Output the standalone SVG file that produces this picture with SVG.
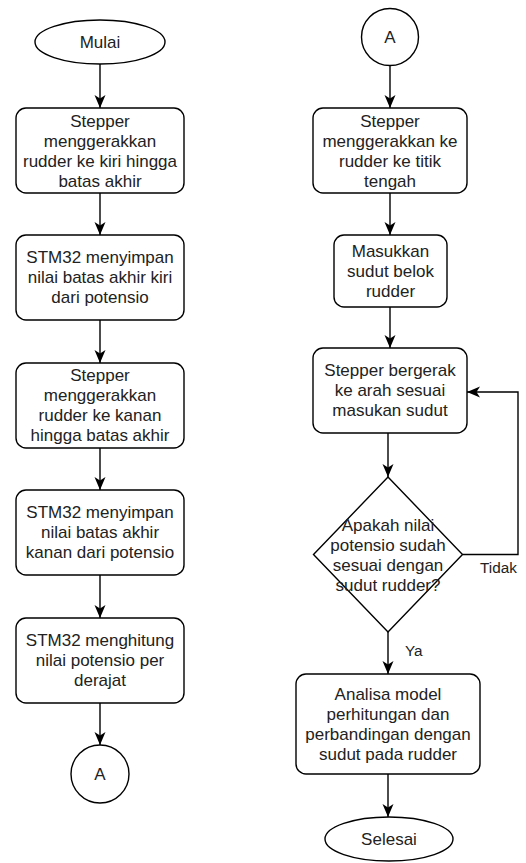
<svg xmlns="http://www.w3.org/2000/svg" width="526" height="863" viewBox="0 0 526 863">
<style>
.s{fill:#fff;stroke:#000;stroke-width:1.4}
.t{font-family:"Liberation Sans",Arial,sans-serif;font-size:17px;fill:#222;text-anchor:middle}
.l{font-family:"Liberation Sans",Arial,sans-serif;font-size:15.3px;fill:#222}
.c{fill:none;stroke:#000;stroke-width:1.4}
</style>
<defs>
<marker id="ah" markerUnits="userSpaceOnUse" markerWidth="13" markerHeight="12" viewBox="0 0 13 12" refX="13" refY="6" orient="auto">
<path d="M0,0.5 L13,6 L0,11.5 L3.5,6 Z" fill="#000"/>
</marker>
</defs>
<rect width="526" height="863" fill="#fff"/>
<g id="connectors">
<path class="c" d="M100,64 V108" marker-end="url(#ah)"/>
<path class="c" d="M100,193 V235" marker-end="url(#ah)"/>
<path class="c" d="M100,320 V363" marker-end="url(#ah)"/>
<path class="c" d="M100,448 V490" marker-end="url(#ah)"/>
<path class="c" d="M100,575 V618" marker-end="url(#ah)"/>
<path class="c" d="M100,703 V745" marker-end="url(#ah)"/>
<path class="c" d="M390,65.5 V108" marker-end="url(#ah)"/>
<path class="c" d="M390,193 V235" marker-end="url(#ah)"/>
<path class="c" d="M390,307 V348" marker-end="url(#ah)"/>
<path class="c" d="M388,433 V477" marker-end="url(#ah)"/>
<path class="c" d="M388,632 V674" marker-end="url(#ah)"/>
<path class="c" d="M388,774 V817" marker-end="url(#ah)"/>
<path class="c" d="M462.5,554.5 H518 V392 H467" marker-end="url(#ah)"/>
<text class="l" x="480" y="572.5">Tidak</text>
<text class="l" x="405" y="655.5">Ya</text>
</g>
<g id="mulai">
<ellipse class="s" cx="100" cy="42" rx="65" ry="22"/>
<text class="t" x="100" y="48">Mulai</text>
</g>
<g id="b1">
<rect class="s" x="16" y="108" width="168" height="85" rx="10"/>
<text class="t" x="100" y="126.5">Stepper</text>
<text class="t" x="100" y="146.5">menggerakkan</text>
<text class="t" x="100" y="166.5">rudder ke kiri hingga</text>
<text class="t" x="100" y="186.5">batas akhir</text>
</g>
<g id="b2">
<rect class="s" x="16" y="235" width="168" height="85" rx="10"/>
<text class="t" x="100" y="263.4">STM32 menyimpan</text>
<text class="t" x="100" y="283.4">nilai batas akhir kiri</text>
<text class="t" x="100" y="303.4">dari potensio</text>
</g>
<g id="b3">
<rect class="s" x="16" y="363" width="168" height="85" rx="10"/>
<text class="t" x="100" y="381.4">Stepper</text>
<text class="t" x="100" y="401.4">menggerakkan</text>
<text class="t" x="100" y="421.4">rudder ke kanan</text>
<text class="t" x="100" y="441.4">hingga batas akhir</text>
</g>
<g id="b4">
<rect class="s" x="16" y="490" width="168" height="85" rx="10"/>
<text class="t" x="100" y="518.4">STM32 menyimpan</text>
<text class="t" x="100" y="538.4">nilai batas akhir</text>
<text class="t" x="100" y="558.4">kanan dari potensio</text>
</g>
<g id="b5">
<rect class="s" x="16" y="618" width="168" height="85" rx="10"/>
<text class="t" x="100" y="646.4">STM32 menghitung</text>
<text class="t" x="100" y="666.4">nilai potensio per</text>
<text class="t" x="100" y="686.4">derajat</text>
</g>
<g id="a1">
<circle class="s" cx="100" cy="774" r="29"/>
<text class="t" x="100" y="780">A</text>
</g>
<g id="a2">
<circle class="s" cx="390" cy="37" r="28.5"/>
<text class="t" x="390" y="43">A</text>
</g>
<g id="r1">
<rect class="s" x="313" y="108" width="154" height="85" rx="10"/>
<text class="t" x="390" y="126.5">Stepper</text>
<text class="t" x="390" y="146.5">menggerakkan ke</text>
<text class="t" x="390" y="166.5">rudder ke titik</text>
<text class="t" x="390" y="186.5">tengah</text>
</g>
<g id="r2">
<rect class="s" x="334" y="235" width="113" height="72" rx="10"/>
<text class="t" x="390.5" y="256.9">Masukkan</text>
<text class="t" x="390.5" y="276.9">sudut belok</text>
<text class="t" x="390.5" y="296.9">rudder</text>
</g>
<g id="r3">
<rect class="s" x="313" y="348" width="154" height="85" rx="10"/>
<text class="t" x="390" y="376.4">Stepper bergerak</text>
<text class="t" x="390" y="396.4">ke arah sesuai</text>
<text class="t" x="390" y="416.4">masukan sudut</text>
</g>
<g id="decision">
<path class="s" d="M388,477 L462.5,554.5 L388,632 L313.5,554.5 Z"/>
<text class="t" x="388" y="530.9">Apakah nilai</text>
<text class="t" x="388" y="550.9">potensio sudah</text>
<text class="t" x="388" y="570.9">sesuai dengan</text>
<text class="t" x="388" y="590.9">sudut rudder?</text>
</g>
<g id="r4">
<rect class="s" x="296" y="674" width="184" height="100" rx="10"/>
<text class="t" x="388" y="700">Analisa model</text>
<text class="t" x="388" y="720">perhitungan dan</text>
<text class="t" x="388" y="740">perbandingan dengan</text>
<text class="t" x="388" y="760">sudut pada rudder</text>
</g>
<g id="selesai">
<ellipse class="s" cx="389" cy="839" rx="64" ry="22"/>
<text class="t" x="389" y="845">Selesai</text>
</g>
</svg>
